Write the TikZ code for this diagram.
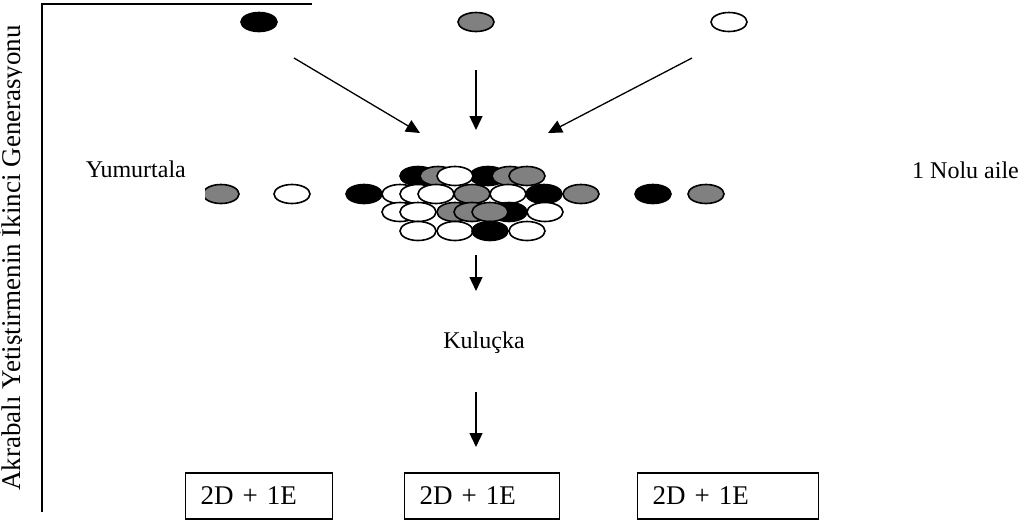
\documentclass[tikz,border=0pt]{standalone}
\usepackage{fontspec}
\setmainfont{Liberation Serif}
\usetikzlibrary{shapes.geometric,arrows.meta}

\tikzset{
  egg/.style={ellipse, draw=black, line width=1.6pt, minimum width=36pt,
    minimum height=19pt, inner sep=0pt},
  blk/.style={egg, fill=black},
  gry/.style={egg, fill=gray},
  wht/.style={egg, fill=white},
  flow/.style={line width=1.3pt, -{Triangle[length=14pt,width=13pt]}},
  famebox/.style={draw, line width=1.2pt, minimum height=46pt, inner xsep=15pt,
    align=left, text width=#1, anchor=west, font=\fontsize{27}{31}\selectfont}
}

\begin{document}
\begin{tikzpicture}
[x=1pt, y=-1pt, font=\fontsize{24}{28}\selectfont]

\useasboundingbox (0,0) rectangle (1024,523);
%________________________________________________%
% frame and side title
\draw[line width=1.5pt] (312,4) -- (42,4) -- (42,512);
\begin{scope}
\clip (0,0) rectangle (21,523);
\node[rotate=90, anchor=base, inner sep=0pt,
  font=\fontsize{27}{31}\selectfont] (title) at (20.5,258)
  {Akrabalı Yetiştirmenin İkinci Generasyonu};
\end{scope}
%________________________________________________%
% parents
\node[blk] (p1) at (259,22) {};
\node[gry] (p2) at (476,22) {};
\node[wht] (p3) at (729,22) {};
\coordinate (a1) at (294,58);  \coordinate (b1) at (420,133);
\coordinate (a2) at (476,70);  \coordinate (b2) at (476,130);
\coordinate (a3) at (692,58);  \coordinate (b3) at (548,133);
\draw[flow] (a1) -- (b1);
\draw[flow] (a2) -- (b2);
\draw[flow] (a3) -- (b3);
%________________________________________________%
\node[anchor=base east, inner sep=0pt] (yum) at (186,177) {Yumurtala};
\node[anchor=base east, inner sep=0pt] (aile) at (1019,178) {1 Nolu aile};
%________________________________________________%
% row of eggs
\begin{scope}
\clip (205,180) rectangle (250,210);
\node[gry] (r0) at (221,194) {};
\end{scope}
\foreach \x/\c [count=\i] in {292/wht, 364/blk, 653/blk, 706/gry}
  \node[\c] (r\i) at (\x,194) {};
%________________________________________________%
% heap of eggs
\foreach \x/\c [count=\i] in {418/blk, 488/blk, 438/gry, 455/wht, 510/gry, 527/gry}
  \node[\c] (h1\i) at (\x,176) {};
\foreach \x/\c [count=\i] in {400/wht, 418/wht, 436/wht, 472/gry, 508/wht, 544/blk, 581/gry}
  \node[\c] (h2\i) at (\x,194) {};
\foreach \x/\c [count=\i] in {400/wht, 418/wht, 509/blk, 455/gry, 472/gry, 490/gry, 545/wht}
  \node[\c] (h3\i) at (\x,212) {};
\foreach \x/\c [count=\i] in {418/wht, 455/wht, 490/blk, 527/wht}
  \node[\c] (h4\i) at (\x,231) {};
%________________________________________________%
\coordinate (a4) at (476,255);  \coordinate (b4) at (476,291);
\draw[flow] (a4) -- (b4);
\node[anchor=base, inner sep=0pt] (kul) at (484,348) {Kuluçka};
\coordinate (a5) at (476,392);  \coordinate (b5) at (476,447);
\draw[flow] (a5) -- (b5);
%________________________________________________%
\node[famebox=117pt] (k1) at (185,496) {2D + 1E};
\node[famebox=125pt] (k2) at (404,496) {2D + 1E};
\node[famebox=151pt] (k3) at (637,496) {2D + 1E};
\end{tikzpicture}
\end{document}
